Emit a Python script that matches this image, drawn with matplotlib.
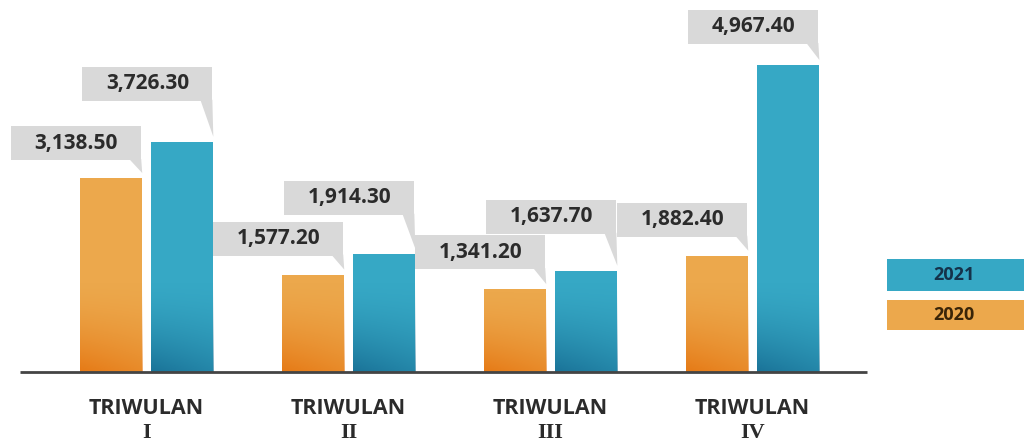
import numpy as np
import matplotlib
matplotlib.use("Agg")
import matplotlib.pyplot as plt
from matplotlib.patches import Rectangle, Polygon
from matplotlib.transforms import IdentityTransform

# Datos
triwulan = ["I", "II", "III", "IV"]
nilai_2020 = [3138.50, 1577.20, 1341.20, 1882.40]
nilai_2021 = [3726.30, 1914.30, 1637.70, 4967.40]
label_2020 = ["3,138.50", "1,577.20", "1,341.20", "1,882.40"]
label_2021 = ["3,726.30", "1,914.30", "1,637.70", "4,967.40"]

# Layout (pixeles)
W, H = 1024, 441
gap_2020 = [18, 19, 20, 19]
gap_2021 = [41, 39, 37, 21]

oranye = "#ECA84C"
oranye_gelap = "#E67A16"
biru = "#36A8C5"
biru_gelap = "#1A7398"
abu = "#D9D9D9"
teks = "#2B2B2B"

fig = plt.figure(figsize=(W / 100, H / 100), dpi=100)
ax = fig.add_axes([0, 0, 1, 1])
ax.set_xlim(-0.725, 4.344)
ax.set_ylim(-1116, 6019)
ax.axis("off")

x = np.arange(len(triwulan))
lebar = 0.31
off = 0.176


def gradasi(bar, warna_gelap):
    # sombra en la parte baja de la barra
    x0, y0 = bar.get_x(), bar.get_y()
    w, h = bar.get_width(), bar.get_height()
    tinggi = min(h, 1500)
    n = 64
    yy = np.linspace(0, 1, n)[:, None]
    xx = np.linspace(0, 1, n)[None, :]
    alpha = np.clip((1 - yy) ** 1.6 * (1.0 - 0.35 * xx), 0, 1)
    img = np.zeros((n, n, 4))
    img[..., :3] = matplotlib.colors.to_rgb(warna_gelap)
    img[..., 3] = alpha
    im = ax.imshow(img, extent=[x0, x0 + w, y0, y0 + tinggi], origin="lower",
                   aspect="auto", zorder=3, interpolation="bilinear")
    im.set_clip_path(bar)


bars20 = ax.bar(x - off, nilai_2020, lebar, color=oranye, zorder=2)
bars21 = ax.bar(x + off, nilai_2021, lebar, color=biru, zorder=2)
for b in bars20:
    gradasi(b, oranye_gelap)
for b in bars21:
    gradasi(b, biru_gelap)

# Eje horizontal
ax.hlines(0, -0.627, 3.567, color="#444444", linewidth=2, zorder=4)

fig.canvas.draw()
to_px = ax.transData.transform


def kotak_label(bar, teks_label, gap):
    kanan, atas = to_px((bar.get_x() + bar.get_width(), bar.get_height()))
    r = kanan - 1
    l = r - 130
    b = atas + gap
    t = b + 34
    fig.add_artist(Rectangle((l, b), r - l, t - b, transform=IdentityTransform(),
                             facecolor=abu, edgecolor="none", zorder=5))
    fig.add_artist(Polygon([(r - 12, b + 1), (r, b + 1), (kanan, atas + 5)],
                           transform=IdentityTransform(), facecolor=abu,
                           edgecolor="none", zorder=5))
    fig.text((l + r) / 2 / W, (b + t) / 2 / H, teks_label, ha="center", va="center",
             fontsize=15, fontweight="bold", color=teks, family="Open Sans", zorder=6)


for b, s, g in zip(bars20, label_2020, gap_2020):
    kotak_label(b, s, g)
for b, s, g in zip(bars21, label_2021, gap_2021):
    kotak_label(b, s, g)

# Etiquetas de categoria
for xi, t in zip(x, triwulan):
    ax.text(xi, -590, "TRIWULAN", ha="center", va="center", fontsize=15.5,
            fontweight="bold", color=teks, family="Open Sans")
    ax.text(xi, -985, t, ha="center", va="center", fontsize=16,
            fontweight="bold", color=teks, family="Liberation Serif")

# Leyenda
fig.add_artist(Rectangle((887 / W, (H - 291) / H), (W - 887) / W, 32 / H,
                         transform=fig.transFigure, facecolor=biru, edgecolor="none"))
fig.add_artist(Rectangle((887 / W, (H - 330) / H), (W - 887) / W, 30 / H,
                         transform=fig.transFigure, facecolor=oranye, edgecolor="none"))
fig.text(954 / W, (H - 275) / H, "2021", ha="center", va="center", fontsize=13,
         fontweight="bold", color="#15324A", family="Open Sans")
fig.text(954 / W, (H - 315) / H, "2020", ha="center", va="center", fontsize=13,
         fontweight="bold", color="#3A2508", family="Open Sans")

fig.savefig("out.png", dpi=100)
